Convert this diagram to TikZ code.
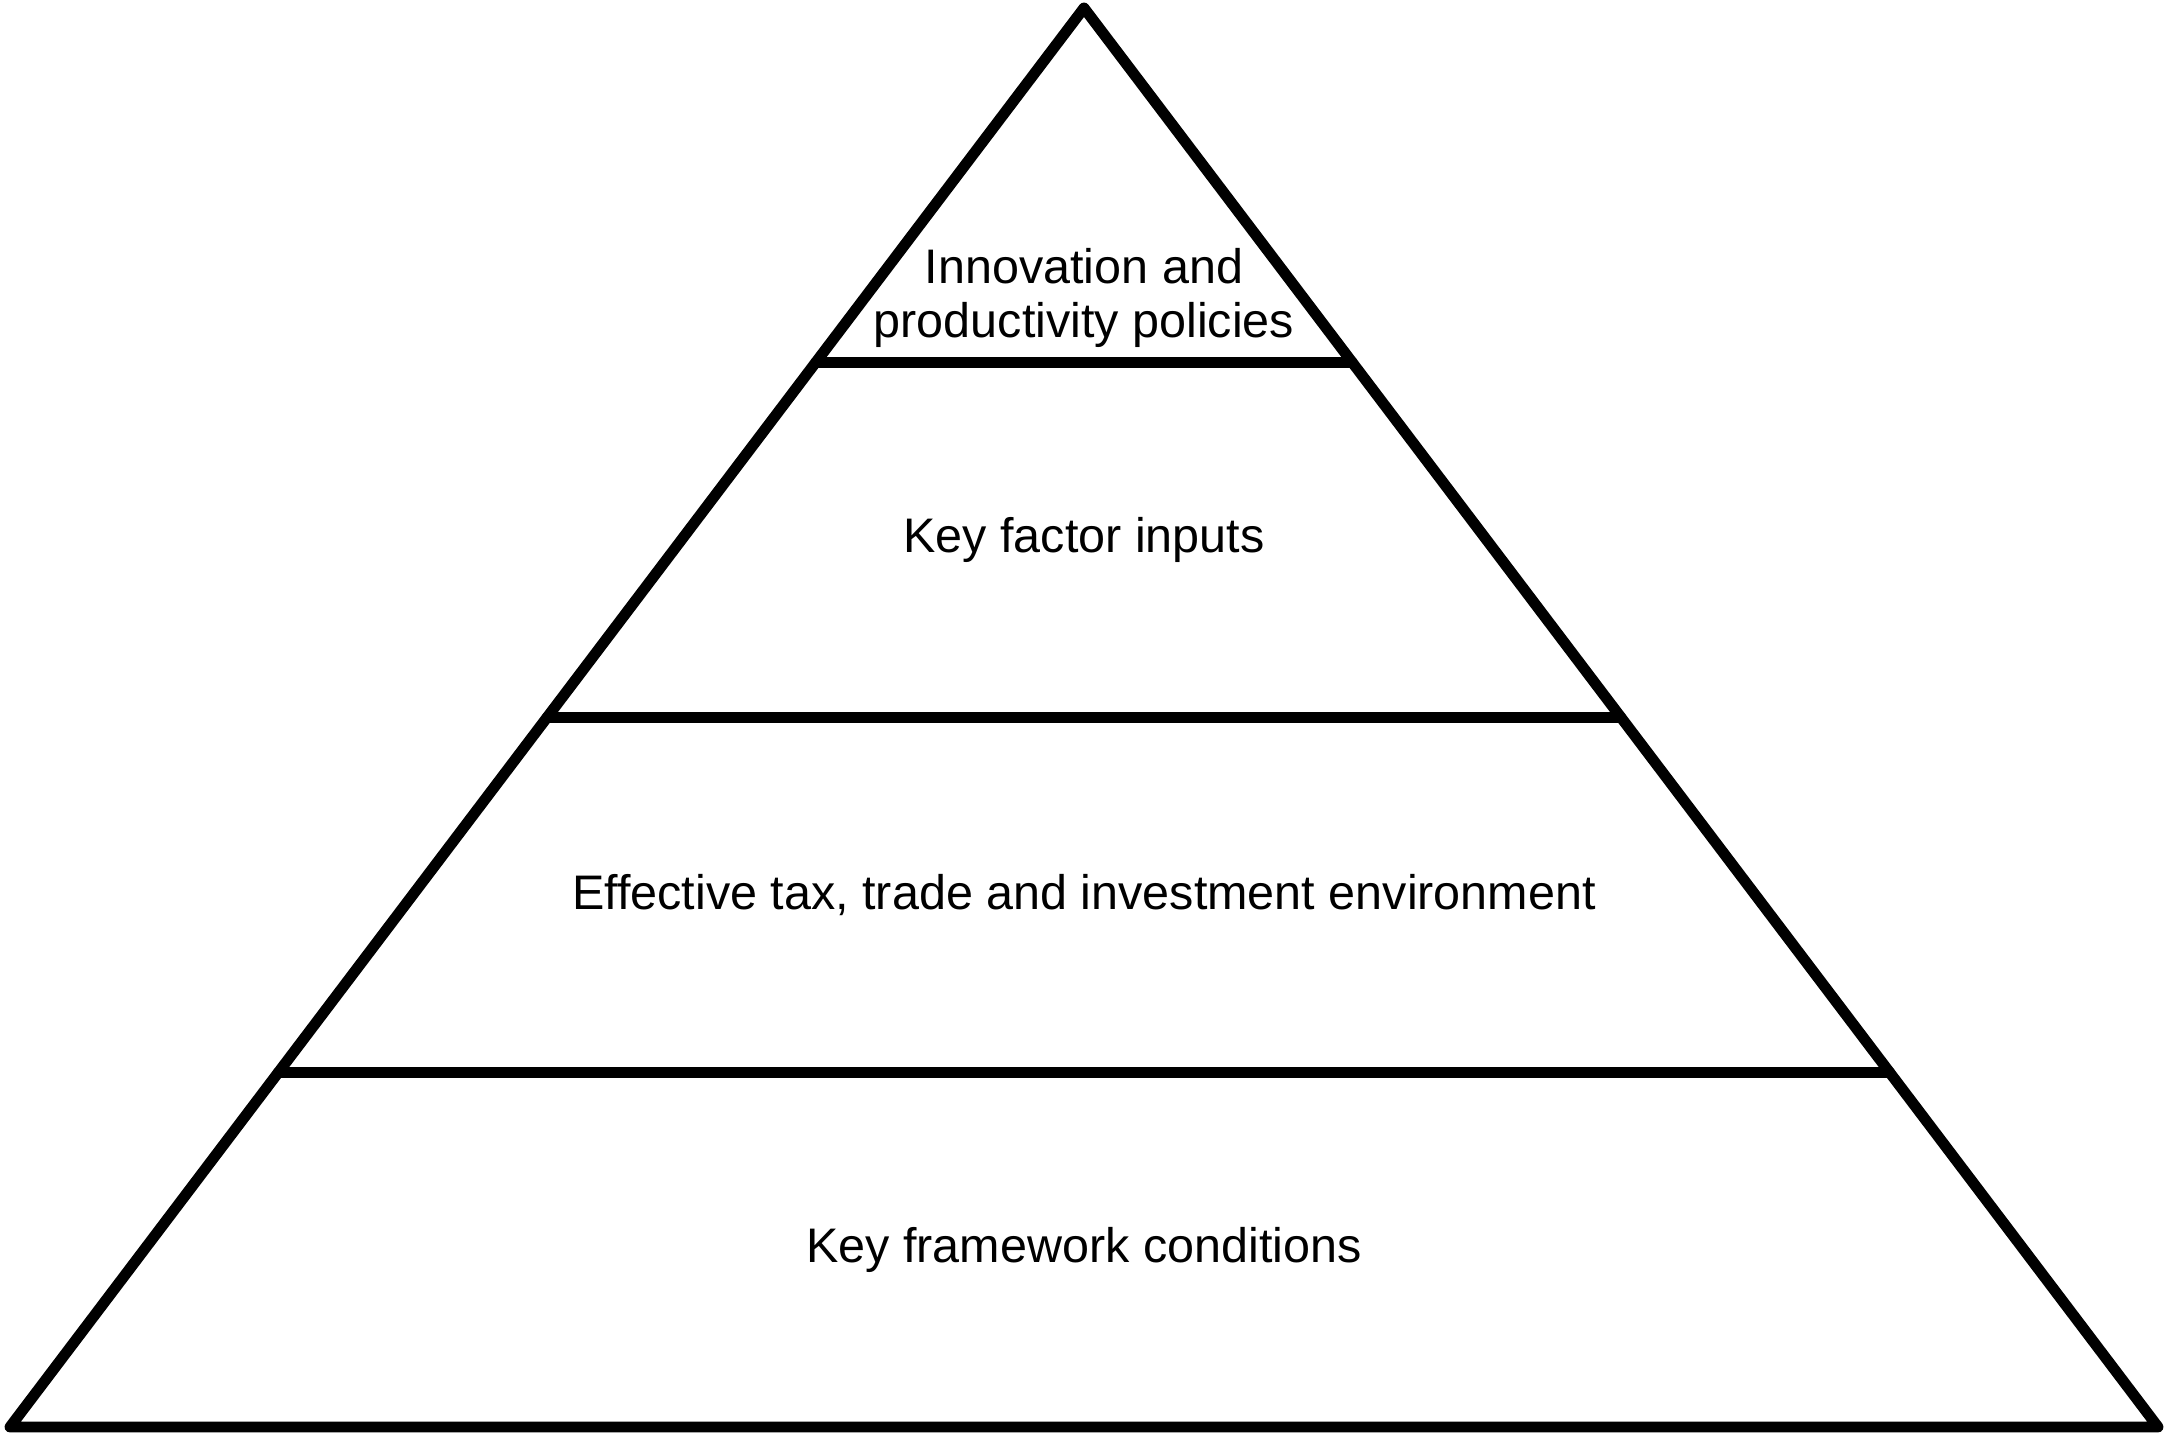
\documentclass[tikz,border=0pt]{standalone}
\usepackage{fontspec}
\setmainfont{Liberation Sans}
\usetikzlibrary{calc}
\tikzset{
    pyrline/.style={line width=3.1pt, line cap=round, line join=round},
    pyrlabel/.style={align=center, font=\fontsize{13.8pt}{15.6pt}\selectfont,
        inner sep=0pt}
}
\begin{document}
\begin{tikzpicture}
    \useasboundingbox (0,0) rectangle (21.67,-14.33);
    \coordinate (apex) at (10.84,-0.08);
    \coordinate (baseL) at (0.10,-14.27);
    \coordinate (baseR) at (21.58,-14.27);
    % band boundaries
    \foreach \t/\name in {0.25/one,0.5/two,0.75/three} {
        \coordinate (\name L) at ($(apex)!\t!(baseL)$);
        \coordinate (\name R) at ($(apex)!\t!(baseR)$);
    }
    \draw[pyrline] (apex) -- (baseL) -- (baseR) -- cycle;
    \draw[pyrline] (oneL) -- (oneR);
    \draw[pyrline] (twoL) -- (twoR);
    \draw[pyrline] (threeL) -- (threeR);

    \node[pyrlabel] (innov) at (10.84,-2.98)
        {Innovation and\\productivity policies};
    \node[pyrlabel] (factor)
        at ($0.25*(oneL)+0.25*(oneR)+0.25*(twoL)+0.25*(twoR)$)
        {Key factor inputs};
    \node[pyrlabel] (tax)
        at ($0.25*(twoL)+0.25*(twoR)+0.25*(threeL)+0.25*(threeR)$)
        {Effective tax, trade and investment environment};
    \node[pyrlabel] (frame)
        at ($0.25*(threeL)+0.25*(threeR)+0.25*(baseL)+0.25*(baseR)$)
        {Key framework conditions};
\end{tikzpicture}
\end{document}
